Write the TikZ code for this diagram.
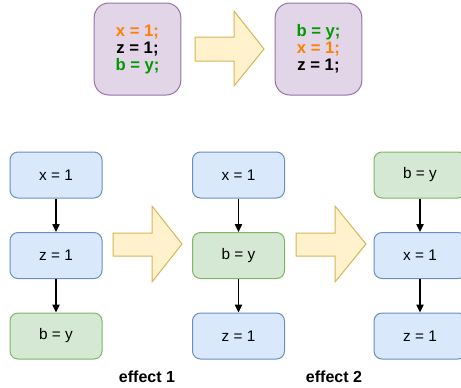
\documentclass[tikz,border=0pt]{standalone}
\usepackage{fontspec}
\setmainfont{Liberation Sans}
\usetikzlibrary{arrows.meta}
\definecolor{bfill}{HTML}{DAE8FC}\definecolor{bline}{HTML}{6C8EBF}
\definecolor{gfill}{HTML}{D5E8D4}\definecolor{gline}{HTML}{82B366}
\definecolor{pfill}{HTML}{E1D5E7}\definecolor{pline}{HTML}{9673A6}
\definecolor{yfill}{HTML}{FFF2CC}\definecolor{yline}{HTML}{D6B656}
\definecolor{otext}{HTML}{FF8000}\definecolor{gtext}{HTML}{009900}
\begin{document}
\begin{tikzpicture}[x=0.75pt,y=-0.75pt,
  bluebox/.style={draw=bline,fill=bfill,rounded corners=6,minimum width=69pt,minimum height=34.5pt,font=\fontsize{11.5}{14}\selectfont,line width=0.75pt},
  greenbox/.style={bluebox,draw=gline,fill=gfill},
  codebox/.style={draw=pline,fill=pfill,rounded corners=11,minimum width=65pt,minimum height=69pt,font=\bfseries\fontsize{12.5}{12.75}\selectfont,align=center,line width=0.75pt},
  fatarrow/.style={draw=yline,fill=yfill,line width=0.75pt},
  link/.style={-{Triangle[length=6pt,width=5.5pt]},line width=1pt},
  lbl/.style={font=\bfseries\fontsize{12}{14}\selectfont}]
\useasboundingbox (0,0) rectangle (461,387);
% top
\node[codebox] (c1) at (137.5,49) {\textcolor{otext}{x = 1;}\\z = 1;\\\textcolor{gtext}{b = y;}};
\node[codebox] (c2) at (318.5,49) {\textcolor{gtext}{b = y;}\\\textcolor{otext}{x = 1;}\\z = 1;};
\draw[fatarrow] (195,37) -- (234,37) -- (234,11) -- (264,49) -- (234,86) -- (234,61) -- (195,61) -- cycle;
% column 1
\node[bluebox] (a1) at (56,175) {x = 1};
\node[bluebox] (a2) at (56,255.5) {z = 1};
\node[greenbox] (a3) at (56,336) {b = y};
\draw[link] (a1) -- (a2);
\draw[link] (a2) -- (a3);
% column 2
\node[bluebox] (b1) at (238.5,175) {x = 1};
\node[greenbox] (b2) at (238.5,255.5) {b = y};
\node[bluebox] (b3) at (238.5,336) {z = 1};
\draw[link] (b1) -- (b2);
\draw[link] (b2) -- (b3);
% column 3
\node[greenbox] (d1) at (420,175) {b = y};
\node[bluebox] (d2) at (420,255.5) {x = 1};
\node[bluebox] (d3) at (420,336) {z = 1};
\draw[link] (d1) -- (d2);
\draw[link] (d2) -- (d3);
% big arrows
\draw[fatarrow] (113,233) -- (152,233) -- (152,206) -- (182,244) -- (152,282) -- (152,256) -- (113,256) -- cycle;
\draw[fatarrow] (296,233) -- (335,233) -- (335,206) -- (366,244) -- (335,282) -- (335,256) -- (296,256) -- cycle;
\node[lbl] (e1) at (147,377) {effect 1};
\node[lbl] (e2) at (334,377) {effect 2};
\end{tikzpicture}
\end{document}
